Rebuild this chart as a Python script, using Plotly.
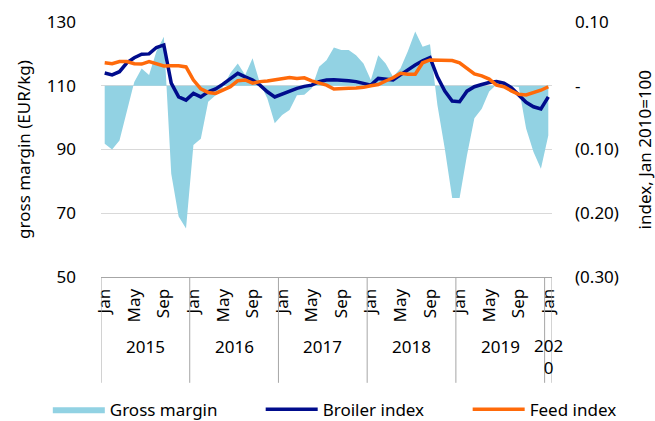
import plotly.graph_objects as go

# ---------------- data ----------------
years = [2015, 2016, 2017, 2018, 2019, 2020]
month_names = ["Jan", "Feb", "Mar", "Apr", "May", "Jun", "Jul", "Aug", "Sep", "Oct", "Nov", "Dec"]
# monthly periods Jan 2015 .. Jan 2020
periods = [(y, m) for y in years[:-1] for m in range(12)] + [(2020, 0)]

gross_margin = [
    -0.091, -0.100, -0.086, -0.041, 0.006, 0.027, 0.017, 0.054, 0.077, -0.138, -0.205, -0.224,
    -0.093, -0.083, -0.025, -0.015, -0.002, 0.020, 0.035, 0.017, 0.043, 0.004, -0.020, -0.059,
    -0.046, -0.038, -0.015, -0.014, -0.004, 0.030, 0.040, 0.060, 0.056, 0.056, 0.048, 0.035,
    0.009, 0.048, 0.035, 0.014, 0.027, 0.054, 0.085, 0.061, 0.065, -0.030, -0.099, -0.176,
    -0.176, -0.109, -0.051, -0.036, -0.009, 0.002, 0.001, 0.000, -0.002, -0.067, -0.104, -0.130,
    -0.078,
]
broiler_index = [
    114.0, 113.4, 114.4, 117.2, 118.8, 119.9, 120.0, 122.0, 122.8, 110.8, 106.5, 105.5,
    107.6, 106.5, 108.1, 109.0, 110.5, 112.3, 113.9, 112.8, 111.8, 110.2, 108.1, 106.5,
    107.4, 108.1, 109.2, 109.8, 110.2, 111.3, 111.8, 111.9, 111.8, 111.6, 111.3, 110.8,
    110.2, 112.3, 112.0, 111.8, 113.4, 115.0, 116.5, 117.8, 118.8, 112.8, 108.3, 105.2,
    105.0, 108.3, 109.7, 110.4, 111.0, 111.3, 110.8, 109.4, 107.1, 104.8, 103.4, 102.7,
    106.5,
]
feed_index = [
    117.2, 116.9, 117.6, 117.6, 116.9, 116.8, 117.6, 116.8, 116.2, 116.3, 116.3, 115.9,
    111.8, 109.0, 107.9, 107.6, 108.6, 109.7, 111.6, 111.8, 110.8, 111.3, 111.5, 111.8,
    112.1, 112.6, 112.3, 112.5, 111.5, 110.9, 110.2, 109.0, 109.0, 109.2, 109.3, 109.5,
    110.0, 110.4, 111.5, 112.5, 113.9, 113.6, 113.6, 117.2, 118.1, 118.1, 118.1, 117.9,
    117.2, 115.5, 113.7, 113.1, 112.1, 110.2, 109.7, 108.4, 107.3, 107.1, 107.8, 108.6,
    109.7,
]
left_ticks = [50, 70, 90, 110, 130]
right_tickvals = [-0.30, -0.20, -0.10, 0.0, 0.10]
right_ticktext = ["(0.30)", "(0.20)", "(0.10)", "-", "0.10"]
label_months = [0, 4, 8]  # Jan, May, Sep

# ---------------- derived ----------------
x = list(range(len(periods)))
tickvals = [i for i, (y, m) in enumerate(periods) if m in label_months]
ticktext = [month_names[periods[i][1]] for i in tickvals]

FONT = "Noto Sans"
FS = 17
C_AREA = "#92d2e3"
C_BROILER = "#000c8c"
C_FEED = "#ff6a0a"
GRID = "#d9d9d9"
AXIS = "#a6a6a6"

fig = go.Figure()
# area on primary y (drawn below), ticks shown on the right
fig.add_trace(go.Scatter(
    x=x, y=gross_margin, name="Gross margin", yaxis="y", legend="legend",
    mode="lines", line=dict(width=0, color=C_AREA), fill="tozeroy", fillcolor=C_AREA,
))
fig.add_trace(go.Scatter(
    x=x, y=broiler_index, name="Broiler index", mode="lines", yaxis="y2", legend="legend2",
    line=dict(color=C_BROILER, width=3.5),
))
fig.add_trace(go.Scatter(
    x=x, y=feed_index, name="Feed index", mode="lines", yaxis="y2", legend="legend3",
    line=dict(color=C_FEED, width=3.5),
))

# year group separators and labels
shapes = []
annotations = []
year_starts = [i for i, (y, m) in enumerate(periods) if m == 0]
bounds = [s - 0.5 for s in year_starts] + [len(periods) - 0.5]
for b in bounds:
    shapes.append(dict(type="line", xref="x", yref="paper", x0=b, x1=b, y0=0, y1=-0.415,
                       line=dict(color=AXIS, width=1)))
for k, s in enumerate(year_starts):
    e = bounds[k + 1]
    yr = periods[s][0]
    narrow = e - s <= 2
    txt = str(yr) if not narrow else str(yr)[:3] + "<br>" + str(yr)[3:]
    annotations.append(dict(x=(s - 0.5 + e) / 2, y=-0.272 + (0.055 if narrow else 0), xref="x",
                            yref="paper", text=txt, showarrow=False,
                            yanchor="top" if narrow else "middle",
                            font=dict(family=FONT, size=FS, color="#000")))

annotations.append(dict(x=-0.172, y=0.5, xref="paper", yref="paper", text="gross margin (EUR/kg)",
                        xanchor="center", yanchor="middle", textangle=-90, showarrow=False,
                        font=dict(family=FONT, size=FS, color="#000")))
annotations.append(dict(x=1.206, y=0.5, xref="paper", yref="paper", text="index, Jan 2010=100",
                        xanchor="center", yanchor="middle", textangle=-90, showarrow=False,
                        font=dict(family=FONT, size=FS, color="#000")))


def leg(xpos):
    return dict(orientation="h", xref="container", yref="container", x=xpos, xanchor="left",
                y=0.027, yanchor="middle", itemwidth=52, font=dict(size=FS),
                bgcolor="rgba(0,0,0,0)")


fig.update_layout(
    width=655, height=421,
    margin=dict(l=101, r=103, t=22, b=144, autoexpand=False),
    paper_bgcolor="white", plot_bgcolor="white",
    font=dict(family=FONT, size=FS, color="#000"),
    showlegend=True,
    legend=leg(0.073), legend2=leg(0.398), legend3=leg(0.714),
    xaxis=dict(range=[-0.5, len(periods) - 0.5], tickvals=tickvals, ticktext=ticktext,
               tickangle=-90, showgrid=False, zeroline=False, showline=True,
               linecolor=AXIS, linewidth=1, ticks="", ticklabelstandoff=4),
    yaxis=dict(range=[-0.30, 0.10], side="right", tickvals=right_tickvals,
               ticktext=right_ticktext, showgrid=True, gridcolor=GRID, gridwidth=1,
               zeroline=False, showline=False, ticks="", ticklabelstandoff=22),
    yaxis2=dict(range=[50, 130], overlaying="y", side="left", tickvals=left_ticks,
                showgrid=False, zeroline=False, showline=False, ticks="", ticklabelstandoff=24),
    shapes=shapes, annotations=annotations,
)
fig.write_html("out.html", config={"displayModeBar": False},
               post_script="document.body.style.margin='0';")
